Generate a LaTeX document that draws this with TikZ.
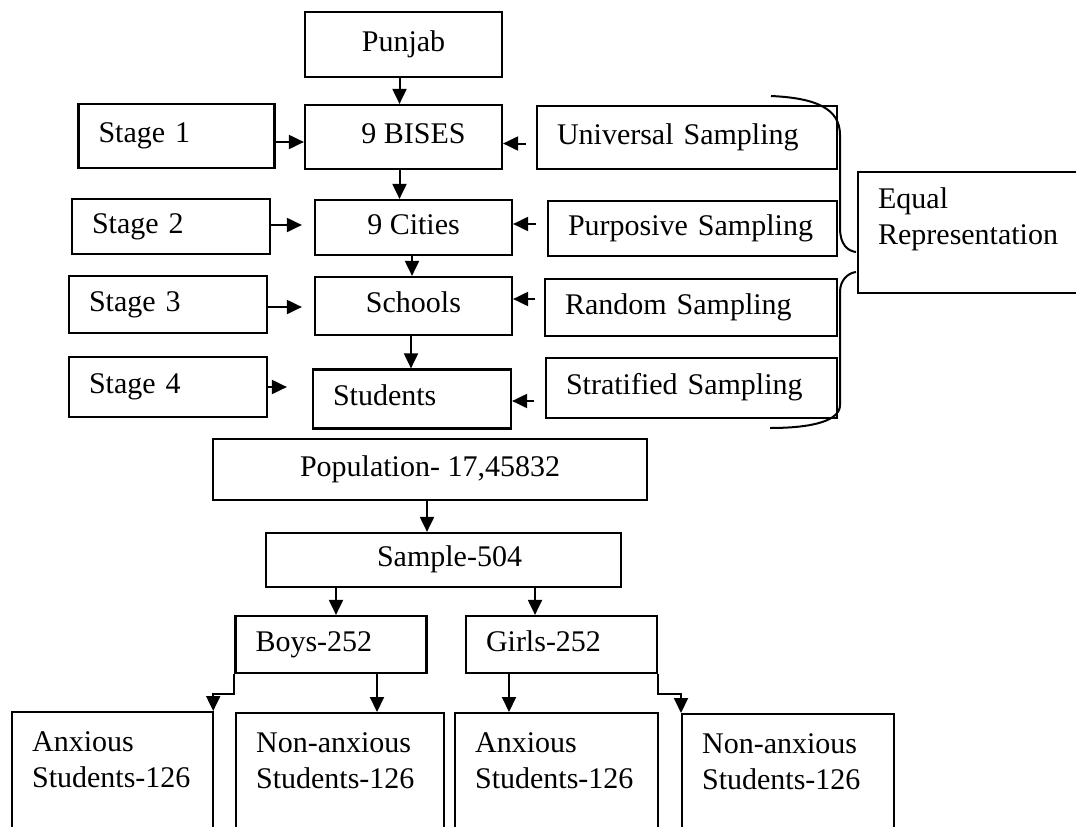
\documentclass[tikz,border=0pt]{standalone}
\usepackage{fontspec}
\setmainfont{Liberation Serif}
\usetikzlibrary{arrows.meta}
\newcommand\diafont{\fontsize{30}{36}\selectfont}
\begin{document}
\begin{tikzpicture}[x=1pt,y=-1pt,
  box/.style={draw, line width=2.2pt, inner sep=0pt, font=\diafont, text height=20pt, text depth=6.5pt},
  lbox/.style={box, align=left, inner xsep=20pt},
  cbox/.style={box, align=center},
  bbox/.style={box, anchor=north west, align=left, inner xsep=20pt, inner ysep=18pt, text height=21pt, text depth=150pt},
  arr/.style={line width=2pt, -{Triangle[length=15pt,width=14pt]}},
  brace/.style={line width=2pt},
]
\useasboundingbox (0,0) rectangle (1076,827);
\clip (0,0) rectangle (1076,827);

% top column
\node[cbox, minimum width=197pt, minimum height=65pt] (punjab) at (403.5,44.5) {Punjab};
\node[cbox, minimum width=197pt, minimum height=64pt] (bises) at (403.5,137) {\hspace*{20pt}9 BISES};
\node[lbox, minimum width=196pt, text width=156pt, minimum height=64pt] (s1) at (176.5,136) {Stage 1};
\node[lbox, minimum width=300pt, text width=260pt, minimum height=63pt] (univ) at (687,137.5) {Universal Sampling};

\node[lbox, minimum width=198pt, text width=158pt, minimum height=55pt] (s2) at (171,226.5) {Stage 2};
\node[cbox, minimum width=197pt, minimum height=55pt] (cities) at (413.5,227.5) {9 Cities};
\node[lbox, minimum width=289pt, text width=249pt, minimum height=55pt] (purp) at (692.5,228.5) {Purposive Sampling};

\node[lbox, minimum width=198pt, text width=158pt, minimum height=57pt] (s3) at (168,304.5) {Stage 3};
\node[cbox, minimum width=197pt, minimum height=58pt] (schools) at (413.5,306) {Schools};
\node[lbox, minimum width=292pt, text width=252pt, minimum height=57pt] (rand) at (691,307.5) {Random Sampling};

\node[lbox, minimum width=198pt, text width=158pt, minimum height=60pt] (s4) at (168,387) {Stage 4};
\node[lbox, minimum width=198pt, text width=158pt, minimum height=59pt] (students) at (412,399) {Students};
\node[lbox, minimum width=291pt, text width=251pt, minimum height=60pt] (strat) at (691.5,388) {Stratified Sampling};

\node[box, anchor=north west, text width=220pt, align=left, inner xsep=20pt, inner ysep=15pt, text height=21pt, text depth=70pt] (equal) at (857,171) {Equal\\Representation};

% lower part
\node[cbox, minimum width=434pt, minimum height=61pt] (population) at (430,469.5) {Population- 17,45832};
\node[cbox, minimum width=355pt, minimum height=54pt] (sample) at (443.5,560) {\hspace*{12pt}Sample-504};
\node[lbox, minimum width=191pt, text width=151pt, minimum height=57pt] (boys) at (331,644.5) {Boys-252};
\node[lbox, minimum width=191pt, text width=151pt, minimum height=57pt] (girls) at (561.5,644.5) {Girls-252};

\node[bbox, text width=161pt] (anx1) at (11,711) {Anxious\\Students-126};
\node[bbox, text width=168pt] (nonanx1) at (235,712) {Non-anxious\\Students-126};
\node[bbox, text width=163pt] (anx2) at (454,712) {Anxious\\Students-126};
\node[bbox, text width=172pt] (nonanx2) at (681,713) {Non-anxious\\Students-126};

% connectors
\draw[arr] ([xshift=-4pt]punjab.south) -- ([xshift=-4pt]punjab.south |- bises.north);
\draw[arr] ([yshift=-6pt]s1.east) -- ([yshift=-6pt]s1.east -| bises.west);
\draw[arr] ([xshift=-10pt,yshift=-6pt]univ.west) -- ([yshift=-6pt]univ.west -| bises.east);
\draw[arr] ([xshift=-4pt]bises.south) -- ([xshift=-4pt]bises.south |- cities.north);
\draw[arr] ([yshift=1.5pt]s2.east) -- ([xshift=-12pt,yshift=1.5pt]s2.east -| cities.west);
\draw[arr] ([xshift=-11pt,yshift=4.5pt]purp.west) -- ([yshift=4.5pt]purp.west -| cities.east);
\draw[arr] ([xshift=-1.5pt]cities.south) -- ([xshift=-1.5pt]cities.south |- schools.north);
\draw[arr] ([yshift=-2.5pt]s3.east) -- ([xshift=-12pt,yshift=-2.5pt]s3.east -| schools.west);
\draw[arr] ([xshift=-9pt,yshift=8.5pt]rand.west) -- ([yshift=8.5pt]rand.west -| schools.east);
\draw[arr] ([xshift=-2.5pt]schools.south) -- ([xshift=-2.5pt]schools.south |- students.north);
\draw[arr] (s4.east) -- ([xshift=-25pt]s4.east -| students.west);
\draw[arr] ([xshift=-11pt,yshift=-13pt]strat.west) -- ([yshift=-13pt]strat.west -| students.east);

\draw[arr] ([xshift=-3pt]population.south) -- ([xshift=-3pt]population.south |- sample.north);
\draw[arr] ([xshift=5pt]boys.north |- sample.south) -- ([xshift=5pt]boys.north);
\draw[arr] ([xshift=-26.5pt]girls.north |- sample.south) -- ([xshift=-26.5pt]girls.north);
\draw[arr] (boys.south west) -- ++(0,20) -| ([xshift=-1pt]anx1.north east);
\draw[arr] ([xshift=46pt]boys.south) -- ([xshift=46pt]boys.south |- nonanx1.north);
\draw[arr] ([xshift=-52.5pt]girls.south) -- ([xshift=-52.5pt]girls.south |- anx2.north);
\draw[arr] (girls.south east) -- ++(0,20) -| (nonanx2.north west);

% brace
\draw[brace] (771,96) .. controls (815,98) and (840,108) .. (840,135) -- (840,228)
  .. controls (840,245) and (848,251) .. (856,252);
\draw[brace] (856,272) .. controls (848,273) and (840,280) .. (840,292) -- (840,405)
  .. controls (840,420) and (815,428) .. (770,428);
\end{tikzpicture}
\end{document}
